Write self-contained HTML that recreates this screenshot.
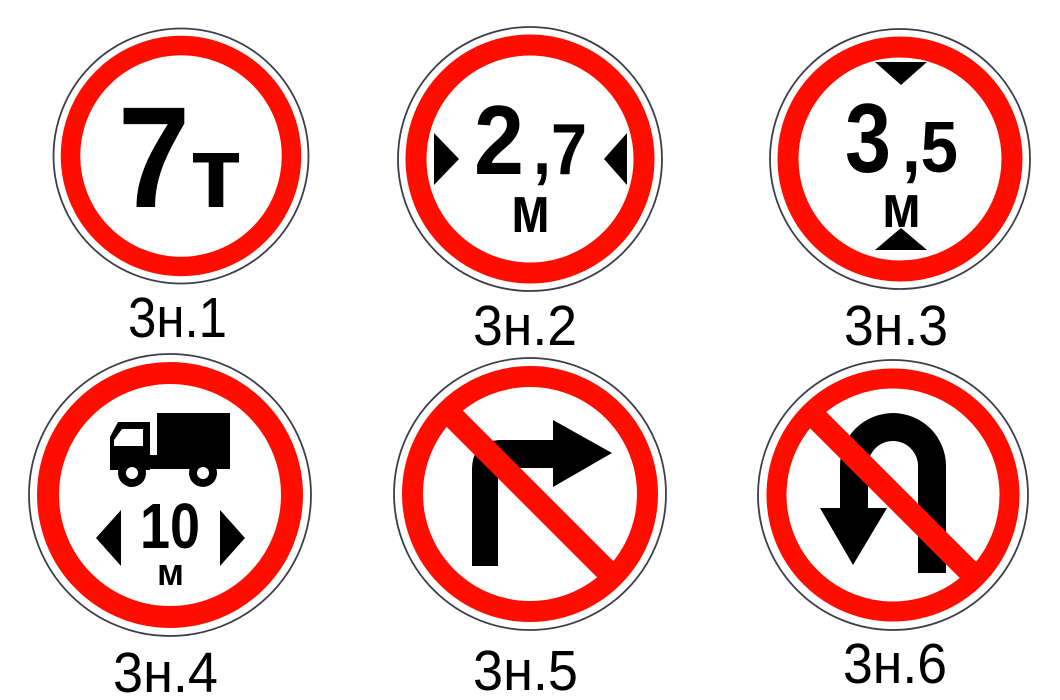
<!DOCTYPE html>
<html><head><meta charset="utf-8"><style>
html,body{margin:0;padding:0;background:#fff;}
svg{display:block;}
.lbl{font-family:"Liberation Sans","DejaVu Sans",sans-serif;font-size:57px;fill:#000;}
.b{font-family:"Liberation Sans","DejaVu Sans",sans-serif;font-weight:bold;fill:#000;}
</style></head><body>
<svg width="1060" height="700" viewBox="0 0 1060 700">
<defs>
<clipPath id="c5"><circle cx="530" cy="494" r="108"/></clipPath>
<clipPath id="c6"><circle cx="893" cy="495" r="107"/></clipPath>
</defs>

<g>
<circle cx="181" cy="156" r="127.5" fill="#fff" stroke="#3a3f4a" stroke-width="1.8"/>
<circle cx="181" cy="156" r="110.5" fill="none" stroke="#ff0e00" stroke-width="19.5"/>
<text class="b" x="118" y="207" font-size="144" textLength="72" lengthAdjust="spacingAndGlyphs">7</text>
<text class="b" x="190" y="207" font-size="102" textLength="52" lengthAdjust="spacingAndGlyphs">т</text>
</g>
<text class="lbl" x="128" y="337" textLength="99" lengthAdjust="spacingAndGlyphs">3н.1</text>

<g>
<circle cx="530" cy="159" r="132" fill="#fff" stroke="#3a3f4a" stroke-width="1.8"/>
<circle cx="530" cy="159" r="114" fill="none" stroke="#ff0e00" stroke-width="21"/>
<polygon points="434,133 459,159 434,185" fill="#000"/>
<polygon points="627,133 604,159 627,185" fill="#000"/>
<text class="b" x="474" y="174" font-size="98" textLength="50" lengthAdjust="spacingAndGlyphs">2</text>
<text class="b" x="533" y="174" font-size="72" textLength="54" lengthAdjust="spacingAndGlyphs">,7</text>
<text class="b" x="511" y="232" font-size="66" textLength="39" lengthAdjust="spacingAndGlyphs">м</text>
</g>
<text class="lbl" x="473" y="345" textLength="104" lengthAdjust="spacingAndGlyphs">3н.2</text>

<g>
<circle cx="900" cy="159" r="130" fill="#fff" stroke="#3a3f4a" stroke-width="1.8"/>
<circle cx="900" cy="159" r="112" fill="none" stroke="#ff0e00" stroke-width="21"/>
<polygon points="875,62 927,62 901,85" fill="#000"/>
<polygon points="875,250 927,250 901,228" fill="#000"/>
<text class="b" x="845" y="172" font-size="98" textLength="46" lengthAdjust="spacingAndGlyphs">3</text>
<text class="b" x="902" y="172" font-size="72" textLength="56" lengthAdjust="spacingAndGlyphs">,5</text>
<text class="b" x="882" y="227" font-size="60" textLength="39" lengthAdjust="spacingAndGlyphs">м</text>
</g>
<text class="lbl" x="844" y="345" textLength="104" lengthAdjust="spacingAndGlyphs">3н.3</text>

<g>
<circle cx="170" cy="495" r="141" fill="#fff" stroke="#3a3f4a" stroke-width="1.8"/>
<circle cx="170" cy="495" r="122" fill="none" stroke="#ff0e00" stroke-width="22"/>
<g>
<rect x="157" y="413" width="73" height="45" fill="#000"/>
<path d="M118,422 H150 V470 H110 V437 Z" fill="#000"/>
<path d="M122,429 H143 V446 H114 V440 Z" fill="#fff"/>
<rect x="110" y="455" width="120" height="14" fill="#000"/>
<circle cx="132" cy="473" r="14" fill="#000"/><circle cx="132" cy="473" r="6" fill="#fff"/>
<circle cx="203" cy="473" r="14" fill="#000"/><circle cx="203" cy="473" r="6" fill="#fff"/>
</g>
<polygon points="121,510 121,566 96,538" fill="#000"/>
<polygon points="220,510 220,566 245,538" fill="#000"/>
<text class="b" x="140" y="548" font-size="64" textLength="60" lengthAdjust="spacingAndGlyphs">10</text>
<text class="b" x="157" y="585" font-size="38" textLength="27" lengthAdjust="spacingAndGlyphs">м</text>
</g>
<text class="lbl" x="113" y="692" textLength="105" lengthAdjust="spacingAndGlyphs">3н.4</text>

<g>
<circle cx="530" cy="494" r="136" fill="#fff" stroke="#3a3f4a" stroke-width="1.8"/>
<path d="M472,566 V470 Q472,440 502,440 H555 V468 H505 Q498,468 498,475 V566 Z" fill="#000"/>
<polygon points="553,420 612,453 553,487" fill="#000"/>
<line x1="420" y1="384" x2="640" y2="604" stroke="#ff0e00" stroke-width="23" clip-path="url(#c5)"/>
<circle cx="530" cy="494" r="117.5" fill="none" stroke="#ff0e00" stroke-width="21"/>
</g>
<text class="lbl" x="473" y="690" textLength="105" lengthAdjust="spacingAndGlyphs">3н.5</text>

<g>
<circle cx="893" cy="495" r="135" fill="#fff" stroke="#3a3f4a" stroke-width="1.8"/>
<path d="M840,508 V466 A53,53 0 0 1 946,466 V573 H918 V466 A25,25 0 0 0 868,466 V508 Z" fill="#000"/>
<polygon points="820,508 887,508 853,565" fill="#000"/>
<line x1="783" y1="385" x2="1003" y2="605" stroke="#ff0e00" stroke-width="23" clip-path="url(#c6)"/>
<circle cx="893" cy="495" r="116.5" fill="none" stroke="#ff0e00" stroke-width="20"/>
</g>
<text class="lbl" x="843" y="683" textLength="104" lengthAdjust="spacingAndGlyphs">3н.6</text>
</svg>
</body></html>
